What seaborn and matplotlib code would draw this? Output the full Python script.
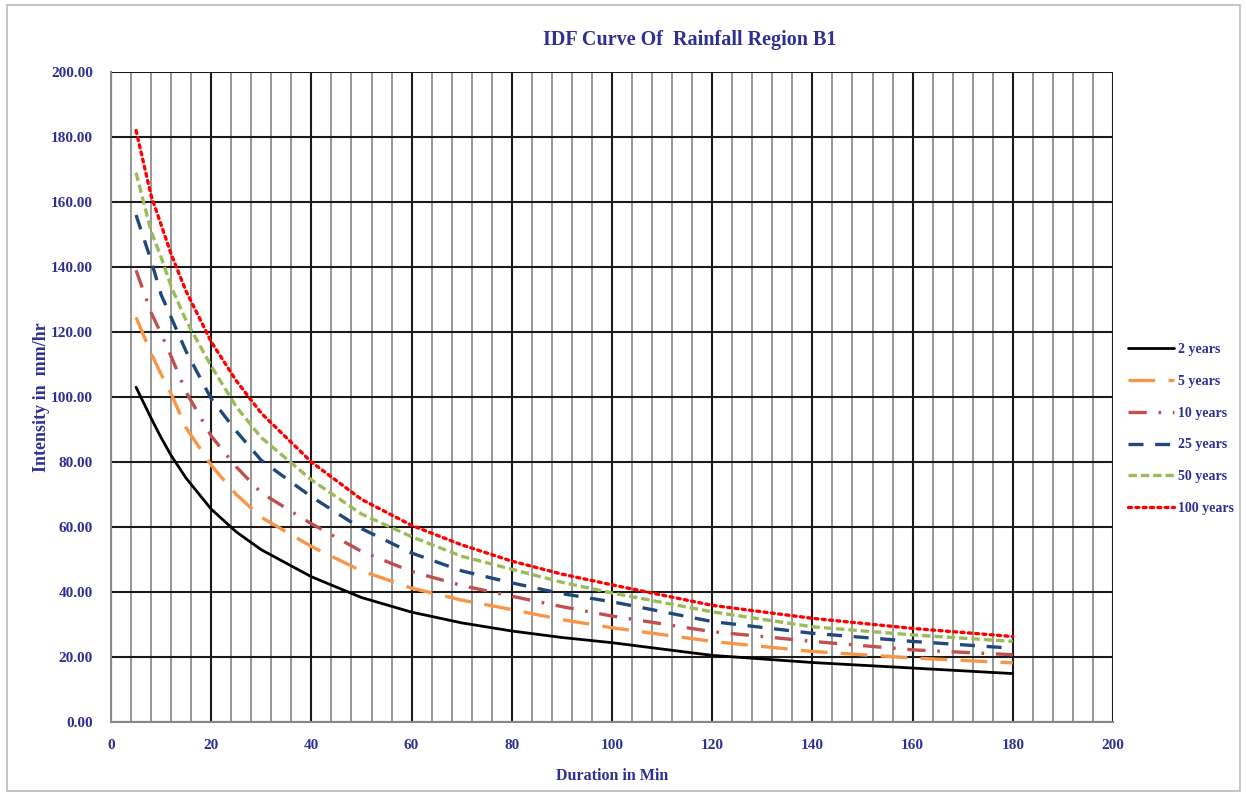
import matplotlib
matplotlib.use("Agg")
import matplotlib.pyplot as plt
from matplotlib.patches import Rectangle
from matplotlib.ticker import MultipleLocator
import seaborn as sns
import pandas as pd

# ---- data ----
duration = [5, 8, 10, 12, 15, 20, 25, 30, 40, 50, 60, 70, 80, 90, 100, 120, 140, 160, 180]
yr2   = [103.0, 93.5, 87.5, 82.0, 75.0, 65.5, 58.5, 53.0, 44.7, 38.3, 33.8, 30.5, 28.0, 26.0, 24.4, 20.5, 18.3, 16.6, 14.9]
yr5   = [124.5, 113.5, 107.0, 101.0, 90.5, 79.0, 70.0, 63.0, 54.0, 46.5, 41.2, 37.5, 34.6, 31.5, 29.0, 24.8, 21.7, 19.7, 18.2]
yr10  = [139.0, 126.0, 119.5, 112.5, 101.5, 88.0, 78.5, 70.5, 61.0, 52.5, 46.3, 42.0, 38.7, 35.5, 32.6, 27.8, 24.8, 22.2, 20.7]
yr25  = [156.0, 142.0, 131.5, 124.5, 114.0, 99.5, 89.5, 80.5, 69.3, 59.5, 52.0, 46.5, 42.8, 39.5, 37.0, 30.9, 27.3, 24.8, 22.7]
yr50  = [169.0, 151.0, 143.0, 134.0, 123.5, 109.5, 97.0, 87.5, 74.5, 64.0, 57.0, 51.0, 47.0, 43.0, 39.7, 33.9, 29.3, 26.8, 24.8]
yr100 = [182.0, 162.0, 153.0, 144.0, 132.5, 117.0, 105.0, 95.0, 80.0, 68.5, 60.5, 54.5, 49.5, 45.5, 42.2, 35.9, 31.9, 28.8, 26.3]
labels = ["2 years", "5 years", "10 years", "25 years", "50 years", "100 years"]
series = [yr2, yr5, yr10, yr25, yr50, yr100]

colors = ["#000000", "#F79646", "#C0504D", "#1F497D", "#9BBB59", "#FF0000"]
dashes = [None, (8, 4), (5.5, 3.5, 0.8, 3.5), (4.5, 3.5), (2.5, 1.2), (0.9, 1.3)]
widths = [2.0, 2.4, 2.4, 2.4, 2.4, 2.4]

sns.set_style("white")
plt.rcParams["font.family"] = ["Liberation Serif", "DejaVu Serif"]
plt.rcParams["font.weight"] = "bold"
TXT = "#2E3192"

fig = plt.figure(figsize=(12.46, 7.96), dpi=100)
ax = fig.add_axes([111 / 1246, 1 - 722 / 796, (1113 - 111) / 1246, (722 - 72) / 796])

df = pd.DataFrame({"Duration": duration})
for lab, vals, c, d, w in zip(labels, series, colors, dashes, widths):
    df[lab] = vals
    sns.lineplot(data=df, x="Duration", y=lab, ax=ax, color=c, linewidth=w, label=lab)
    line = ax.get_lines()[-1]
    if d is not None:
        line.set_dashes(d)
        line.set_dash_capstyle("round" if lab == "100 years" else "butt")

ax.set_xlim(0, 200)
ax.set_ylim(0, 200)
ax.xaxis.set_major_locator(MultipleLocator(20))
ax.xaxis.set_minor_locator(MultipleLocator(4))
ax.set_yticks(range(0, 201, 20))
ax.set_yticklabels([f"{v:.2f}" for v in range(0, 201, 20)])

ax.grid(which="major", axis="both", color="#1a1a1a", linewidth=1.5)
ax.grid(which="minor", axis="x", color="#8f8f8f", linewidth=1.3)
ax.set_axisbelow(True)
for s in ["top", "right"]:
    ax.spines[s].set_visible(False)
for s in ["left", "bottom"]:
    ax.spines[s].set_color("#888888")
    ax.spines[s].set_linewidth(1.5)

ax.tick_params(axis="both", which="both", length=0, colors=TXT, labelsize=11)
ax.tick_params(axis="y", pad=13)
ax.tick_params(axis="x", pad=12)
for t in ax.get_xticklabels() + ax.get_yticklabels():
    t.set_fontweight("bold")

ax.set_xlabel("Duration in Min", color=TXT, fontsize=11.5, fontweight="bold", labelpad=12)
ax.set_ylabel("Intensity in  mm/hr", color=TXT, fontsize=13, fontweight="bold", labelpad=1)
fig.text(690 / 1246, 1 - 40 / 796, "IDF Curve Of  Rainfall Region B1", color=TXT,
         fontsize=14.5, fontweight="bold", ha="center", va="center")

if ax.legend_:
    ax.legend_.remove()
handles, labs = ax.get_legend_handles_labels()
leg = fig.legend(handles, labs, loc="center left", bbox_to_anchor=(1128 / 1246, 1 - 429 / 796),
                 frameon=False, fontsize=10, handlelength=3.3, handletextpad=0.3,
                 labelspacing=1.35, borderpad=0, borderaxespad=0)
for t in leg.get_texts():
    t.set_color(TXT)
    t.set_fontweight("bold")

fig.patches.append(Rectangle((7 / 1246, 1 - 791 / 796), (1240 - 7) / 1246, (791 - 5) / 796,
                             transform=fig.transFigure, fill=False, edgecolor="#BBBBBB",
                             linewidth=1.2))

fig.savefig("out.png", dpi=100, facecolor="white")
